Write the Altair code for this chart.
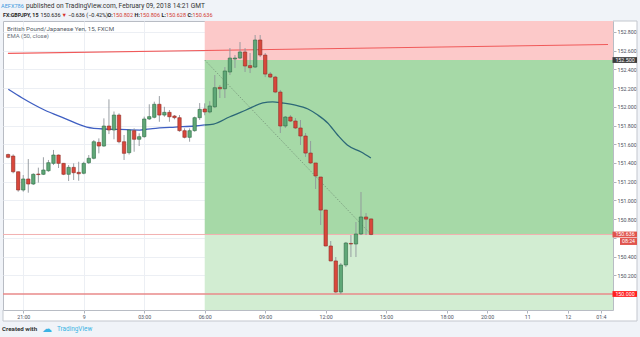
import altair as alt
import pandas as pd

# ---------------- data ----------------
opens = [151.49, 151.474, 151.306, 151.111, 151.229, 151.175, 151.282, 151.279, 151.317, 151.396,
         151.485, 151.396, 151.279, 151.353, 151.300, 151.290, 151.403, 151.450, 151.620, 151.581,
         151.795, 151.752, 151.912, 151.627, 151.510, 151.745, 151.653, 151.681, 151.870, 151.888,
         152.027, 151.912, 151.941, 151.902, 151.884, 151.745, 151.674, 151.745, 151.884, 151.977,
         151.945, 152.000, 152.208, 152.193, 152.372, 152.511, 152.521, 152.586, 152.440, 152.425,
         152.714, 152.553, 152.350, 152.318, 152.158, 151.795, 151.891, 151.848, 151.774, 151.688,
         151.506, 151.400, 151.250, 150.897, 150.513, 150.353, 150.021, 150.310, 150.540, 150.534,
         150.641, 150.823, 150.802]
highs = [151.50, 151.492, 151.310, 151.271, 151.442, 151.290, 151.350, 151.461, 151.432, 151.539,
         151.490, 151.400, 151.378, 151.396, 151.413, 151.413, 151.485, 151.645, 151.663, 151.877,
         152.080, 151.950, 151.930, 151.699, 151.755, 151.770, 151.717, 151.895, 152.027, 152.055,
         152.115, 152.000, 151.966, 151.912, 151.912, 151.770, 151.770, 151.895, 152.040, 152.037,
         152.060, 152.340, 152.233, 152.425, 152.628, 152.553, 152.692, 152.628, 152.575, 152.767,
         152.767, 152.575, 152.372, 152.330, 152.180, 151.902, 151.912, 151.880, 151.859, 151.720,
         151.635, 151.400, 151.250, 150.900, 150.566, 150.395, 150.331, 150.556, 150.630, 150.769,
         151.090, 150.865, 150.806]
lows = [151.45, 151.290, 151.093, 151.093, 151.082, 151.165, 151.190, 151.271, 151.306, 151.378,
        151.346, 151.270, 151.207, 151.218, 151.210, 151.279, 151.389, 151.439, 151.503, 151.574,
        151.709, 151.653, 151.610, 151.432, 151.490, 151.520, 151.581, 151.670, 151.859, 151.877,
        151.840, 151.894, 151.840, 151.866, 151.734, 151.663, 151.627, 151.734, 151.860, 151.910,
        151.930, 151.987, 152.094, 152.094, 152.340, 152.415, 152.511, 152.372, 152.361, 152.415,
        152.532, 152.318, 152.308, 152.147, 151.720, 151.774, 151.838, 151.763, 151.592, 151.464,
        151.389, 151.122, 150.737, 150.510, 150.350, 150.011, 150.000, 150.288, 150.395, 150.395,
        150.630, 150.630, 150.628]
closes = [151.46, 151.306, 151.111, 151.229, 151.175, 151.279, 151.276, 151.325, 151.403, 151.485,
          151.396, 151.279, 151.353, 151.296, 151.285, 151.396, 151.450, 151.627, 151.581, 151.795,
          151.752, 151.912, 151.627, 151.503, 151.752, 151.653, 151.681, 151.870, 151.895, 152.027,
          151.912, 151.941, 151.894, 151.884, 151.745, 151.674, 151.745, 151.884, 151.973, 151.945,
          152.009, 152.204, 152.193, 152.383, 152.521, 152.521, 152.586, 152.436, 152.418, 152.714,
          152.553, 152.350, 152.318, 152.158, 151.795, 151.891, 151.848, 151.774, 151.688, 151.506,
          151.400, 151.261, 150.897, 150.513, 150.353, 150.021, 150.310, 150.545, 150.534, 150.641,
          150.823, 150.800, 150.636]
# 15-minute bars, hours relative to 06:00 on Feb 9
bar_hours = [-9.75 + 0.25 * i for i in range(len(opens))]

ema_hours = [-9.74, -9.05, -7.95, -6.98, -5.85, -5.02, -4.2, -3.22, -2.59, -1.46, -0.49, 0.0,
             0.44, 1.22, 2.05, 2.88, 3.37, 3.85, 4.49, 5.12, 5.61, 6.1, 6.59, 7.07, 7.76, 8.24]
ema_values = [152.187, 152.094, 151.966, 151.880, 151.784, 151.763, 151.758, 151.752, 151.768,
              151.784, 151.795, 151.806, 151.816, 151.891, 151.966, 152.041, 152.052, 152.041,
              152.019, 151.977, 151.912, 151.827, 151.699, 151.592, 151.517, 151.453]

x_tick_values = [-9, -6, -3, 0, 3, 6, 9, 12, 14, 16, 18, 19.65]
x_tick_labels = ["21:00", "9", "03:00", "06:00", "09:00", "12:00", "15:00", "18:00", "20:00",
                 "11", "12", "01:4"]
y_tick_values = [150.2, 150.4, 150.6, 150.8, 151.0, 151.2, 151.4, 151.6, 151.8, 152.0, 152.2,
                 152.4, 152.6, 152.8]

entry_price = 152.5
current_price = 150.636
level_price = 150.0
trend_hours = [-9.76, 20.0]
trend_prices = [152.571, 152.666]
diag_hours = [0.0, 8.25]
diag_prices = [152.5, 150.636]

X_DOMAIN = [-9.756, 20.0]
Y_DOMAIN = [149.829, 152.917]

FONT = "Roboto"
BG = "#f0f3f8"
AXIS_TXT = "#4c525e"

# ---------------- helpers ----------------
xs = alt.Scale(domain=X_DOMAIN, nice=False, zero=False)
ys = alt.Scale(domain=Y_DOMAIN, nice=False, zero=False)

expr = "''"
for v, l in reversed(list(zip(x_tick_values, x_tick_labels))):
    expr = f"datum.value == {v} ? '{l}' : {expr}"

x_axis = alt.Axis(values=x_tick_values, labelExpr=expr, title=None, grid=True,
                  gridColor="#eceff4", gridWidth=1, tickSize=3, tickColor="#b0b4bc",
                  labelFontSize=5.3, labelColor=AXIS_TXT, labelFont=FONT, domain=False,
                  labelFlush=False, labelOverlap=False, labelPadding=1)
y_axis = alt.Axis(values=y_tick_values, orient="right", title=None, grid=True,
                  gridColor="#eceff4", gridWidth=1, tickSize=3, tickColor="#b0b4bc",
                  labelExpr="abs(datum.value - 150.6) < 0.001 ? '' : format(datum.value, '.3f')",
                  labelFontSize=5.3, labelColor=AXIS_TXT, labelFont=FONT, domain=False,
                  labelPadding=1, labelOverlap=False, labelFlush=False)


def X(f):
    return alt.X(f, type="quantitative", scale=xs, axis=x_axis)


def Y(f):
    return alt.Y(f, type="quantitative", scale=ys, axis=y_axis)


one = pd.DataFrame({"a": [0]})

# ---------------- tables ----------------
candles = pd.DataFrame({"hour": bar_hours, "open": opens, "high": highs, "low": lows,
                        "close": closes})
candles["dir"] = ["up" if c >= o else "down" for o, c in zip(opens, closes)]

regions = pd.DataFrame({
    "x1": [0.0, 0.0, 0.0],
    "x2": [21.0, 21.0, 21.0],
    "y1": [entry_price, current_price, 149.6],
    "y2": [153.2, entry_price, current_price],
    "fill": ["#fcc9c9", "#a6d9a7", "#d2edd2"],
})

hlines = pd.DataFrame({"price": [current_price, level_price],
                       "col": ["#f2b0b0", "#e88a8a"],
                       "w": [1.0, 1.6]})

trend = pd.DataFrame({"hour": trend_hours, "price": trend_prices})
diag = pd.DataFrame({"hour": diag_hours, "price": diag_prices})
ema = pd.DataFrame({"hour": ema_hours, "ema": ema_values})

boxes = pd.DataFrame({
    "price": [entry_price, current_price, level_price],
    "label": ["152.500", "150.636", "150.000"],
    "fill": ["#3d3d3d", "#e0544d", "#ff1f1f"],
})
boxes["top"] = boxes["price"] + 0.031
boxes["bot"] = boxes["price"] - 0.031
timer = pd.DataFrame({"price": [current_price - 0.075], "label": ["08:24"]})
timer["top"] = timer["price"] + 0.037
timer["bot"] = timer["price"] - 0.037

# ---------------- layers ----------------
layers = []

layers.append(alt.Chart(regions).mark_rect(clip=True).encode(
    x=X("x1"), x2="x2", y=Y("y1"), y2="y2", color=alt.Color("fill:N", scale=None)))

layers.append(alt.Chart(hlines).mark_rule(clip=True).encode(
    x=alt.value(0), x2=alt.value(610), y=Y("price"),
    color=alt.Color("col:N", scale=None), strokeWidth=alt.StrokeWidth("w:Q", scale=None)))

layers.append(alt.Chart(trend).mark_line(clip=True, color="#f05a5a", strokeWidth=1.1).encode(
    x=X("hour"), y=Y("price")))

layers.append(alt.Chart(diag).mark_line(color="#6f8a72", strokeWidth=0.7,
                                        strokeDash=[1.5, 1.5]).encode(x=X("hour"), y=Y("price")))

layers.append(alt.Chart(ema).transform_filter("datum.hour <= 0").mark_line(
    color="#3f5fc2", strokeWidth=1.3, interpolate="monotone").encode(x=X("hour"), y=Y("ema")))
layers.append(alt.Chart(ema).transform_filter("datum.hour >= 0").mark_line(
    color="#2c6877", strokeWidth=1.3, interpolate="monotone").encode(x=X("hour"), y=Y("ema")))

layers.append(alt.Chart(candles).mark_rule(color="#8e959b", strokeWidth=0.9).encode(
    x=X("hour"), y=Y("low"), y2="high"))
layers.append(alt.Chart(candles).mark_bar(size=3.4, strokeWidth=0.6).encode(
    x=X("hour"), y=Y("open"), y2="close",
    color=alt.Color("dir:N", scale=alt.Scale(domain=["up", "down"], range=["#5fa777", "#d9473b"]),
                    legend=None),
    stroke=alt.Stroke("dir:N", scale=alt.Scale(domain=["up", "down"],
                                               range=["#2f6b45", "#8f2e27"]), legend=None)))

# page background strips outside the white panel
for x1, x2, y1, y2 in [(-3, 637, -21, 0), (-3, 637, 300, 316), (-3, 0, 0, 300), (634, 637, 0, 300)]:
    layers.append(alt.Chart(one).mark_rect(color=BG).encode(
        x=alt.value(x1), x2=alt.value(x2), y=alt.value(y1), y2=alt.value(y2)))

# panel borders
for x1, x2, y1, y2 in [(610, 634, 0, 0), (634, 634, 0, 300), (0, 634, 300, 300), (0, 0, 289, 300)]:
    layers.append(alt.Chart(one).mark_rule(color="#c3c7ce", strokeWidth=1).encode(
        x=alt.value(x1), x2=alt.value(x2), y=alt.value(y1), y2=alt.value(y2)))

# price label boxes on the right axis
layers.append(alt.Chart(boxes).mark_rect().encode(
    x=alt.value(609.5), x2=alt.value(634), y=Y("top"), y2="bot",
    color=alt.Color("fill:N", scale=None)))
layers.append(alt.Chart(boxes).mark_text(color="white", fontSize=5.3, font=FONT,
                                         align="center", baseline="middle").encode(
    x=alt.value(622), y=Y("price"), text="label:N"))
layers.append(alt.Chart(timer).mark_rect(color="#e0544d").encode(
    x=alt.value(617), x2=alt.value(634), y=Y("top"), y2="bot"))
layers.append(alt.Chart(timer).mark_text(color="white", fontSize=5.3, font=FONT,
                                         align="center", baseline="middle").encode(
    x=alt.value(625.5), y=Y("price"), text="label:N"))


def txt(s, x, y, size=6.5, color="#333333", weight="normal"):
    return alt.Chart(one).mark_text(text=s, fontSize=size, font=FONT, color=color,
                                    fontWeight=weight, align="left", baseline="middle").encode(
        x=alt.value(x), y=alt.value(y))


# header
layers.append(txt("AEFX786", -2, -15.3, 5.6, "#3d9be0"))
layers.append(txt("published on TradingView.com, February 09, 2018 14:21 GMT", 23, -15.3, 6.6, "#333333"))
RED = "#d23a30"
layers.append(txt("FX:GBPJPY, 15", 0, -6, 5.3, "#222222", "bold"))
for s, x, col, wt in [("150.636", 37.5, "#222222", "normal"),
                      ("▼", 58.5, "#d6322c", "normal"),
                      ("−0.636 (−0.42%)", 65, "#222222", "normal"),
                      ("O:", 104.5, "#222222", "bold"),
                      ("150.802", 110, RED, "normal"),
                      ("H:", 131.5, "#222222", "bold"),
                      ("150.806", 137, RED, "normal"),
                      ("L:", 158.5, "#222222", "bold"),
                      ("150.628", 163, RED, "normal"),
                      ("C:", 184.5, "#222222", "bold"),
                      ("150.636", 189.5, RED, "normal")]:
    layers.append(txt(s, x, -6, 5.5, col, wt))

# legend text inside chart
layers.append(txt("British Pound/Japanese Yen, 15, FXCM", 4, 8, 6.2, "#555b66"))
layers.append(txt("EMA (50, close)", 4, 15, 6.0, "#6a707a"))

# footer
layers.append(txt("Created with", -1, 308, 6.2, "#333333", "bold"))
layers.append(txt("☁", 39, 307.5, 10, "#3bb3e4"))
layers.append(txt("TradingView", 54, 308, 6.4, "#3bb3e4"))

chart = alt.layer(*layers).properties(
    width=610, height=289,
    autosize=alt.AutoSizeParams(type="none"),
    padding={"left": 3, "top": 21, "right": 27, "bottom": 27},
    background="white",
).configure_view(stroke="#b8bcc4", strokeWidth=1, fill="white")

chart.save("out.html", embed_options={"renderer": "svg", "actions": False})
